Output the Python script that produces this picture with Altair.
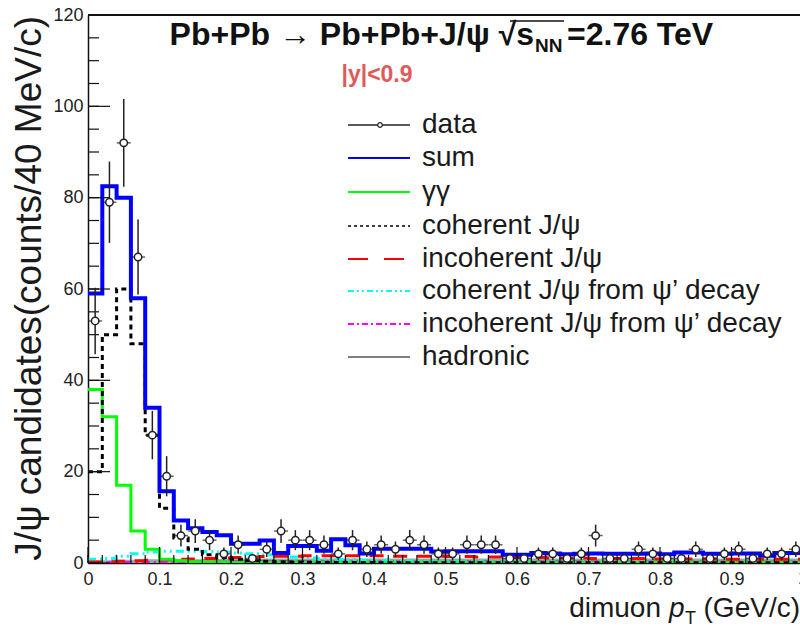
import altair as alt
import pandas as pd

# ---------------- data ----------------
bin_edges = [round(0.02 * i, 2) for i in range(51)]

sum_vals = [59, 82.5, 80, 58, 34, 15.7, 9.3, 7.6, 6.8, 6.1,
            4.2, 4.2, 4.9, 2.2, 3.7, 3.7, 2.7, 5.2, 3.9, 2.1,
            3.1, 3.1, 3.1, 3.1, 2.5, 2.6, 2.6, 2.6, 2.6, 1.8,
            1.8, 2.2, 2.1, 1.9, 2.0, 2.1, 2.0, 2.0, 2.0, 2.1,
            1.9, 2.3, 2.3, 2.0, 2.0, 2.1, 2.1, 1.6, 2.2, 2.2]
gg_vals = [38, 32, 17, 7, 3, 0.8, 0.5, 0.3, 0.2, 0.15,
           0.1, 0.1, 0.1, 0.1, 0.1, 0.1, 0.1, 0.1, 0.1, 0.1,
           0.05, 0.05, 0.05, 0.05, 0.05, 0.05, 0.05, 0.05, 0.05, 0.05,
           0.05, 0.05, 0.05, 0.05, 0.05, 0.05, 0.05, 0.05, 0.05, 0.05,
           0.05, 0.05, 0.05, 0.05, 0.05, 0.05, 0.05, 0.05, 0.05, 0.05]
coh_vals = [20, 50, 60, 48, 28, 12, 5.5, 3.0, 1.8, 1.2,
            0.8, 0.5, 0.4, 0.3, 0.2, 0.15, 0.1, 0.1, 0.1, 0.1,
            0.05, 0.05, 0.05, 0.05, 0.05, 0.05, 0.05, 0.05, 0.05, 0.05,
            0.05, 0.05, 0.05, 0.05, 0.05, 0.05, 0.05, 0.05, 0.05, 0.05,
            0.05, 0.05, 0.05, 0.05, 0.05, 0.05, 0.05, 0.05, 0.05, 0.05]
incoh_vals = [0.2, 0.3, 0.4, 0.5, 0.6, 0.7, 0.8, 0.9, 1.0, 1.1,
              1.2, 1.3, 1.4, 1.5, 1.5, 1.6, 1.6, 1.6, 1.6, 1.6,
              1.6, 1.5, 1.5, 1.5, 1.5, 1.4, 1.4, 1.3, 1.3, 1.2,
              1.2, 1.2, 1.1, 1.1, 1.1, 1.0, 1.0, 1.0, 1.0, 0.9,
              0.9, 0.9, 0.9, 0.9, 0.8, 0.8, 0.8, 0.8, 0.8, 0.8]
cohpsi_vals = [0.8, 1.0, 1.5, 2.0, 2.4, 2.6, 2.6, 2.6, 2.5, 2.4,
               2.2, 2.0, 1.8, 1.5, 1.3, 1.1, 0.9, 0.8, 0.7, 0.6,
               0.5, 0.45, 0.4, 0.35, 0.3, 0.3, 0.25, 0.2, 0.2, 0.2,
               0.15, 0.15, 0.15, 0.15, 0.1, 0.1, 0.1, 0.1, 0.1, 0.1,
               0.1, 0.1, 0.1, 0.1, 0.1, 0.1, 0.1, 0.1, 0.1, 0.1]
incohpsi_vals = [0.05, 0.05, 0.1, 0.1, 0.1, 0.15, 0.15, 0.2, 0.2, 0.2,
                 0.25, 0.25, 0.25, 0.3, 0.3, 0.3, 0.3, 0.3, 0.3, 0.3,
                 0.3, 0.3, 0.3, 0.3, 0.3, 0.3, 0.3, 0.3, 0.25, 0.25,
                 0.25, 0.25, 0.25, 0.25, 0.25, 0.25, 0.2, 0.2, 0.2, 0.2,
                 0.2, 0.2, 0.2, 0.2, 0.2, 0.2, 0.2, 0.2, 0.2, 0.2]
had_vals = [0.6, 0.6, 0.7, 0.7, 0.8, 0.8, 0.8, 0.8, 0.9, 0.9,
            0.9, 0.9, 1.0, 1.0, 1.0, 1.0, 1.0, 1.0, 1.0, 1.0,
            1.0, 1.0, 1.0, 1.0, 1.0, 1.0, 1.0, 1.0, 1.0, 1.0,
            1.0, 1.0, 1.0, 1.0, 1.0, 1.0, 1.0, 1.0, 1.0, 1.0,
            1.0, 1.0, 1.0, 1.0, 1.0, 1.0, 1.0, 1.0, 1.0, 1.0]

data_x = [0.01, 0.03, 0.05, 0.07, 0.09, 0.11, 0.13, 0.15, 0.17, 0.19,
          0.21, 0.23, 0.25, 0.27, 0.29, 0.31, 0.33, 0.35, 0.37, 0.39,
          0.41, 0.43, 0.45, 0.47, 0.49, 0.51, 0.53, 0.55, 0.57, 0.59,
          0.61, 0.63, 0.65, 0.67, 0.69, 0.71, 0.73, 0.75, 0.77, 0.79,
          0.81, 0.83, 0.85, 0.87, 0.89, 0.91, 0.93, 0.95, 0.97, 0.99]
data_y = [53, 79, 92, 67, 28, 19, 6, 7, 5, 2,
          4, 1, 3, 7, 5, 5, 4, 2, 5, 3,
          4, 3, 5, 4, 2, 2, 4, 4, 4, 1,
          1, 2, 2, 1, 2, 6, 1, 1, 3, 2,
          1, 1, 3, 1, 2, 3, 1, 2, 2, 3]
data_err = [7.3, 8.9, 9.6, 8.2, 5.3, 4.4, 2.4, 2.6, 2.2, 1.4,
            2.0, 1.0, 1.7, 2.6, 2.2, 2.2, 2.0, 1.4, 2.2, 1.7,
            2.0, 1.7, 2.2, 2.0, 1.4, 1.4, 2.0, 2.0, 2.0, 1.0,
            1.0, 1.4, 1.4, 1.0, 1.4, 2.4, 1.0, 1.0, 1.7, 1.4,
            1.0, 1.0, 1.7, 1.0, 1.4, 1.7, 1.0, 1.4, 1.4, 1.7]

x_label_vals = [0, 0.1, 0.2, 0.3, 0.4, 0.5, 0.6, 0.7, 0.8, 0.9]
x_minor_ticks = [round(0.02 * i, 2) for i in range(51)]
y_label_vals = [0, 20, 40, 60, 80, 100, 120]
y_minor_ticks = [5 * i for i in range(25)]

legend_labels = ["data", "sum", "γγ", "coherent J/ψ", "incoherent J/ψ",
                 "coherent J/ψ from ψ’ decay", "incoherent J/ψ from ψ’ decay", "hadronic"]

# ---------------- layout ----------------
W, H = 712, 548
FONT = "Liberation Sans"
xs = alt.Scale(domain=[0, 1 - 3 / 715], nice=False, zero=False)
ys = alt.Scale(domain=[0, 120], nice=False)

xaxis = alt.Axis(values=x_label_vals, format=".1~f", labelFontSize=18, labelFont=FONT,
                 labelColor="#222", ticks=False, domainColor="#111", domainWidth=1.5,
                 grid=False, title=None, labelPadding=7, labelFlush=False)
yaxis = alt.Axis(values=y_label_vals, labelFontSize=18, labelFont=FONT, labelColor="#222",
                 ticks=False, domainColor="#111", domainWidth=1.5, grid=False, title=None,
                 labelPadding=5, labelFlush=False)


def X(field):
    return alt.X(field, type="quantitative", scale=xs, axis=xaxis)


def Y(field):
    return alt.Y(field, type="quantitative", scale=ys, axis=yaxis)


def hist_df(vals):
    return pd.DataFrame({"x": bin_edges, "y": list(vals) + [vals[-1]]})


layers = []

# hadronic (filled band)
layers.append(alt.Chart(hist_df(had_vals)).mark_area(interpolate="step-after", color="#86b4a0",
                                                    clip=True).encode(x=X("x"), y=Y("y")))


def step(vals, color, width, dash=None):
    kw = dict(interpolate="step-after", color=color, strokeWidth=width, clip=True)
    if dash:
        kw["strokeDash"] = dash
    return alt.Chart(hist_df(vals)).mark_line(**kw).encode(x=X("x"), y=Y("y"))


layers.append(step(incohpsi_vals, "#ff00ff", 3, [8, 4, 2, 4]))
layers.append(step(cohpsi_vals, "#00ffff", 3, [8, 4, 2, 4, 2, 4]))
layers.append(step(incoh_vals, "#ff0000", 3, [14, 10]))
layers.append(step(gg_vals, "#00ff00", 3))
layers.append(step(coh_vals, "#000000", 3, [5, 4]))
layers.append(step(sum_vals, "#0000ff", 4))


# axis ticks (inward, ROOT style)
def ticks_x(vals, length):
    df = pd.DataFrame({"x": vals})
    return alt.Chart(df).mark_rule(color="#111", strokeWidth=1.2).encode(
        x=X("x"), y=alt.value(H), y2=alt.value(H - length))


def ticks_y(vals, length):
    df = pd.DataFrame({"y": vals})
    return alt.Chart(df).mark_rule(color="#111", strokeWidth=1.2).encode(
        y=Y("y"), x=alt.value(0), x2=alt.value(length))


layers.append(ticks_x(x_minor_ticks, 8))
layers.append(ticks_x(x_label_vals, 16))
layers.append(ticks_y(y_minor_ticks, 11))
layers.append(ticks_y(y_label_vals, 22))

# top frame line
one = pd.DataFrame({"a": [0]})
layers.append(alt.Chart(one).mark_rule(color="#111", strokeWidth=2).encode(
    x=alt.value(0), x2=alt.value(W), y=alt.value(0)))

# data points
ddf = pd.DataFrame({"x": data_x, "y": data_y,
                    "lo": [v - e for v, e in zip(data_y, data_err)],
                    "hi": [v + e for v, e in zip(data_y, data_err)]})
layers.append(alt.Chart(ddf).mark_rule(color="#222", strokeWidth=1.5, clip=True).encode(
    x=X("x"), y=Y("lo"), y2="hi"))
layers.append(alt.Chart(ddf).mark_tick(orient="horizontal", size=14, thickness=1.5,
                                        color="#222").encode(x=X("x"), y=Y("y")))
layers.append(alt.Chart(ddf).mark_point(shape="circle", size=55, filled=False, fill="white",
                                         fillOpacity=1, stroke="#222", strokeWidth=1.5,
                                         opacity=1).encode(x=X("x"), y=Y("y")))

# "1" tick label, partly outside the window as in the reference
layers.append(alt.Chart(pd.DataFrame({"t": ["1"]})).mark_text(
    font=FONT, fontSize=18, color="#222", baseline="top", align="center").encode(
    x=alt.X("v:Q", scale=xs, axis=xaxis), y=alt.value(H + 7), text="t:N"
).transform_calculate(v="1"))


def txt(s, x, y, size, **kw):
    return alt.Chart(pd.DataFrame({"t": [s]})).mark_text(font=FONT, fontSize=size, **kw).encode(
        x=alt.value(x), y=alt.value(y), text="t:N")


# legend
OX, OY = 88, 15
leg_y = [125, 158, 192, 226, 259, 291, 324, 357]
leg_style = [("#222", 1.5, None), ("#0000ff", 2, None), ("#00ff00", 2, None),
             ("#000000", 1.5, [3, 3]), ("#ff0000", 2, [20, 16]),
             ("#00ffff", 2, [6, 3, 2, 3, 2, 3]), ("#ff00ff", 2, [6, 3, 2, 3]),
             ("#555555", 1.5, None)]
for lab, yy, (col, wdt, dash) in zip(legend_labels, leg_y, leg_style):
    kw = dict(color=col, strokeWidth=wdt)
    if dash:
        kw["strokeDash"] = dash
    layers.append(alt.Chart(one).mark_rule(**kw).encode(
        x=alt.value(348 - OX), x2=alt.value(410 - OX), y=alt.value(yy - OY)))
    layers.append(txt(lab, 422 - OX, yy - OY, 28, align="left", baseline="middle", color="#1a1a1a"))
layers.append(alt.Chart(one).mark_point(shape="circle", size=22, filled=False, fill="white",
                                         fillOpacity=1, stroke="#222", strokeWidth=1.2).encode(
    x=alt.value(380 - OX), y=alt.value(125 - OY)))

# title pieces
TB = 45 - OY
SH = 26
layers.append(txt("Pb+Pb → Pb+Pb+J/ψ √s", 508 + SH - OX, TB, 32, align="right",
                  baseline="alphabetic", fontWeight="bold", color="#111"))
layers.append(txt("NN", 509 + SH - OX, TB + 7, 19, align="left", baseline="alphabetic",
                  fontWeight="bold", color="#111"))
layers.append(txt("=2.76 TeV", 541 + SH - OX, TB, 32, align="left", baseline="alphabetic",
                  fontWeight="bold", color="#111"))
layers.append(alt.Chart(one).mark_rule(color="#111", strokeWidth=1.5).encode(
    x=alt.value(484 + SH - OX), x2=alt.value(538 + SH - OX), y=alt.value(21 - OY)))
layers.append(txt("|y|<0.9", 377 - OX, 75 - OY, 23, align="center", baseline="middle",
                  fontWeight="bold", color="#e05a5a"))

# axis titles
layers.append(txt("J/ψ candidates(counts/40 MeV/c)", 30 - OX, 16 - OY, 37, align="right",
                  baseline="middle", angle=270, color="#1a1a1a"))
XB = 617 - OY
layers.append(txt("(GeV/c)", 800 - OX, XB, 28, align="right", baseline="alphabetic", color="#1a1a1a"))
layers.append(txt("T", 685 - OX, XB + 7, 18, align="left", baseline="alphabetic", color="#1a1a1a"))
layers.append(txt("p", 669 - OX, XB, 28, align="left", baseline="alphabetic", fontStyle="italic",
                  color="#1a1a1a"))
layers.append(txt("dimuon", 661 - OX, XB, 28, align="right", baseline="alphabetic", color="#1a1a1a"))

chart = alt.layer(*layers).properties(
    width=W, height=H,
    autosize=alt.AutoSizeParams(type="none"),
    padding={"left": 88, "top": 15, "right": 0, "bottom": 68},
    background="white",
).configure_view(stroke=None)

chart.save("out.html", embed_options={"renderer": "svg", "actions": False})
